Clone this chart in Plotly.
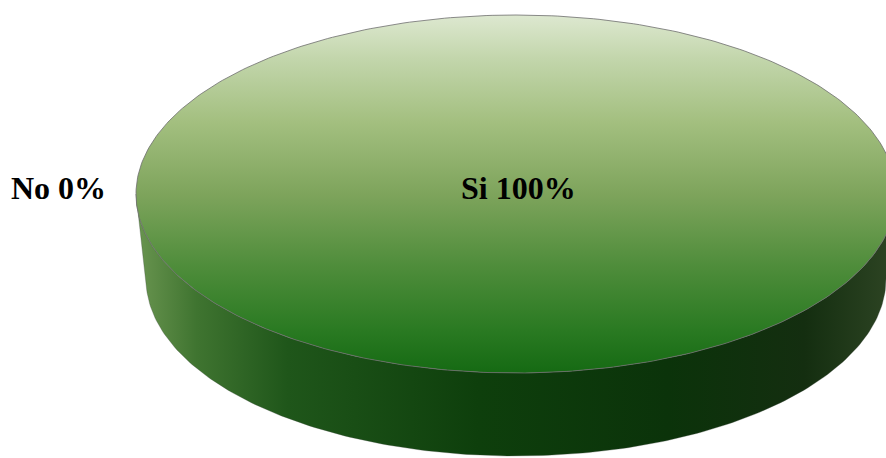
import numpy as np
import plotly.graph_objects as go

# ---- data ----
labels = ["Si", "No"]
values = [100, 0]
label_text = ["Si 100%", "No 0%"]

W, H = 886, 458
cx, cy = 516, 194          # centre of top face (pixel coords from top)
rx, ry = 380, 179          # top face radii
depth = 85
rxb, ryb = 370, 177        # bottom rim radii (slight perspective)

def Y(py):
    return H - py

total = sum(values)
fig = go.Figure()

# side wall (front half of the pie)
t = np.linspace(np.pi, 2 * np.pi, 200)  # screen-lower half
top_x = cx + rx * np.cos(t)
top_y = cy - ry * np.sin(t)
bot_x = cx + rxb * np.cos(t[::-1])
bot_y = cy + depth - ryb * np.sin(t[::-1])
sx = np.concatenate([top_x, bot_x, top_x[:1]])
sy = np.concatenate([top_y, bot_y, top_y[:1]])
fig.add_trace(go.Scatter(
    x=sx, y=[Y(v) for v in sy], mode="lines", fill="toself",
    line=dict(width=0.5, color="rgba(60,70,60,0.6)"),
    fillgradient=dict(type="horizontal", start=cx - rx, stop=cx + rx,
                      colorscale=[[0, "#6a9550"], [0.08, "#3f7430"], [0.2, "#1f561a"],
                                  [0.45, "#0e3f0c"], [0.7, "#0b330a"], [0.88, "#142e10"],
                                  [1, "#2e4524"]]),
    hoverinfo="skip", showlegend=False))

# top faces of slices, angles from values
start = 90.0
for lab, v in zip(labels, values):
    sweep = 360.0 * v / total
    if sweep <= 0:
        continue
    a = np.radians(np.linspace(start, start - sweep, 400))
    px = cx + rx * np.cos(a)
    py = cy - ry * np.sin(a)
    if sweep < 360:
        px = np.concatenate([[cx], px, [cx]])
        py = np.concatenate([[cy], py, [cy]])
    fig.add_trace(go.Scatter(
        x=px, y=[Y(v2) for v2 in py], mode="lines", fill="toself",
        line=dict(width=1, color="rgba(110,110,110,0.8)"),
        fillgradient=dict(type="vertical", start=Y(cy + ry), stop=Y(cy - ry),
                          colorscale=[[0, "#156a13"], [0.12, "#2a7a22"], [0.3, "#4f8d3b"],
                                      [0.5, "#7ea45c"], [0.7, "#a3bf7f"], [0.88, "#c3d6ac"],
                                      [1, "#dde8d0"]]),
        name=lab, hoverinfo="skip", showlegend=False))
    start -= sweep

# labels
fig.add_annotation(x=518, y=Y(188), text="<b>" + label_text[0] + "</b>", showarrow=False,
                   font=dict(family="Liberation Serif", size=32, color="black"))
fig.add_annotation(x=58, y=Y(188), text="<b>" + label_text[1] + "</b>", showarrow=False,
                   font=dict(family="Liberation Serif", size=32, color="black"))

fig.update_layout(
    width=W, height=H, margin=dict(l=0, r=0, t=0, b=0),
    paper_bgcolor="white", plot_bgcolor="white",
    xaxis=dict(range=[0, W], visible=False, fixedrange=True),
    yaxis=dict(range=[0, H], visible=False, fixedrange=True),
)
fig.write_html("out.html", config={"displayModeBar": False},
               post_script="document.body.style.margin='0';document.body.style.overflow='hidden';")
